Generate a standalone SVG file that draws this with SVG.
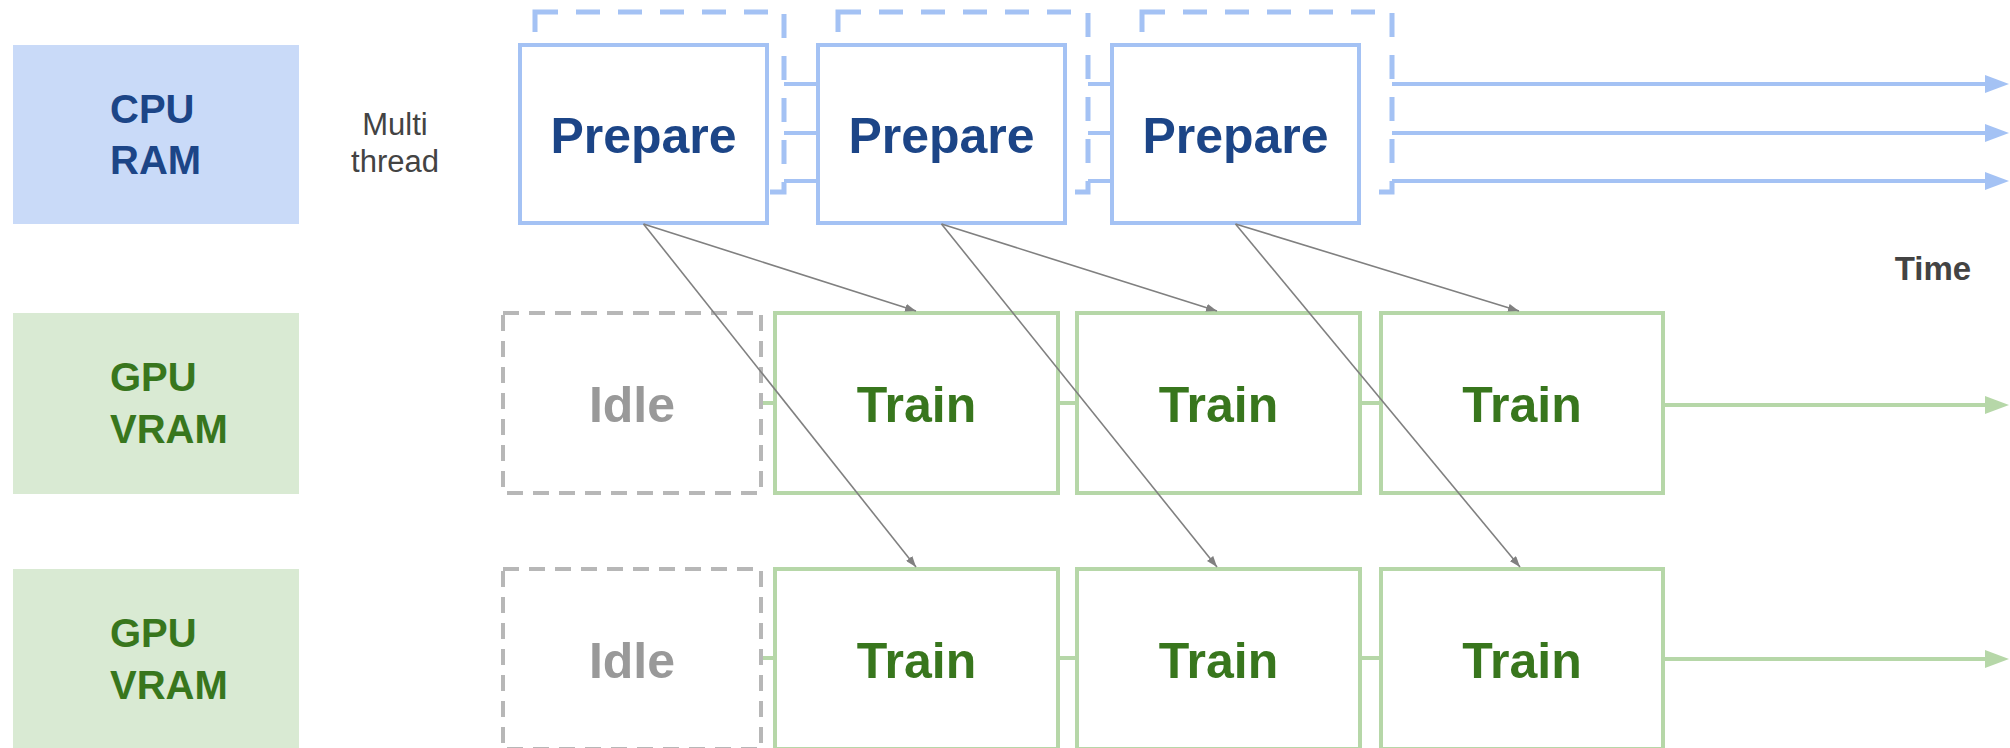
<svg xmlns="http://www.w3.org/2000/svg" width="2010" height="748" viewBox="0 0 2010 748">
  <style>
    text { font-family: "Liberation Sans", Arial, sans-serif; }
    .lbl { font-size: 40px; font-weight: bold; }
    .cpu { fill: #1c4587; }
    .gpu { fill: #38761d; }
    .big { font-size: 50px; font-weight: bold; text-anchor: middle; }
    .prep { fill: #ffffff; stroke: #a4c2f4; stroke-width: 4; }
    .train { fill: #ffffff; stroke: #b6d7a8; stroke-width: 4; }
    .idle { fill: #ffffff; stroke: #b7b7b7; stroke-width: 4; stroke-dasharray: 16 10; }
    .frame { fill: none; stroke: #a4c2f4; stroke-width: 5; stroke-dasharray: 24 18; }
    .corner { fill: none; stroke: #a4c2f4; stroke-width: 5; }
    .bl { fill: none; stroke: #a4c2f4; stroke-width: 4; }
    .gl { fill: none; stroke: #b6d7a8; stroke-width: 4; }
    .gray { fill: none; stroke: #808080; stroke-width: 1.6; }
    .note { font-size: 31px; fill: #434343; text-anchor: middle; }
  </style>
  <defs>
    <marker id="ab" markerUnits="userSpaceOnUse" markerWidth="24" markerHeight="18" refX="2" refY="9" orient="auto">
      <path d="M0,0 L24,9 L0,18 z" fill="#a4c2f4"/>
    </marker>
    <marker id="ag" markerUnits="userSpaceOnUse" markerWidth="24" markerHeight="18" refX="2" refY="9" orient="auto">
      <path d="M0,0 L24,9 L0,18 z" fill="#b6d7a8"/>
    </marker>
    <marker id="ay" markerUnits="userSpaceOnUse" markerWidth="11" markerHeight="8" refX="11" refY="4" orient="auto">
      <path d="M0,0 L11,4 L0,8 z" fill="#808080"/>
    </marker>
  </defs>

  <!-- lane labels -->
  <g id="cpu-ram">
    <rect x="13" y="45" width="286" height="179" fill="#c9daf8"/>
    <text class="lbl cpu" x="110" y="122.5">CPU</text>
    <text class="lbl cpu" x="110" y="174">RAM</text>
  </g>
  <g id="gpu-vram-1">
    <rect x="13" y="313" width="286" height="181" fill="#d9ead3"/>
    <text class="lbl gpu" x="110" y="391">GPU</text>
    <text class="lbl gpu" x="110" y="442.5">VRAM</text>
  </g>
  <g id="gpu-vram-2">
    <rect x="13" y="569" width="286" height="181" fill="#d9ead3"/>
    <text class="lbl gpu" x="110" y="647">GPU</text>
    <text class="lbl gpu" x="110" y="698.5">VRAM</text>
  </g>
  <g id="multi-thread">
    <text class="note" x="395" y="135">Multi</text>
    <text class="note" x="395" y="172">thread</text>
  </g>
  <g id="time">
    <text x="1933" y="280" font-size="33" font-weight="bold" fill="#434343" text-anchor="middle">Time</text>
  </g>

  <!-- connectors (thread lines, pipeline links) -->
  <g id="connectors">
    <!-- thread frames -->
    <path class="corner" d="M535,32 V12 H558"/>
    <path class="frame" d="M576,12 H784 V192 H769"/>
    <path class="corner" d="M838,32 V12 H861"/>
    <path class="frame" d="M879,12 H1088 V192 H1067"/>
    <path class="corner" d="M1142,32 V12 H1165"/>
    <path class="frame" d="M1183,12 H1392 V192 H1361"/>
    <!-- thread lines between prepare blocks -->
    <path class="bl" d="M784,84 H818 M784,133 H818 M784,181 H818"/>
    <path class="bl" d="M1088,84 H1112 M1088,133 H1112 M1088,181 H1112"/>
    <path class="bl" d="M1392,84 H1987" marker-end="url(#ab)"/>
    <path class="bl" d="M1392,133 H1987" marker-end="url(#ab)"/>
    <path class="bl" d="M1392,181 H1987" marker-end="url(#ab)"/>
    <!-- GPU lane links -->
    <path class="gl" d="M761,403 H775 M1058,403 H1077 M1360,403 H1381"/>
    <path class="gl" d="M1663,405 H1987" marker-end="url(#ag)"/>
    <path class="gl" d="M761,658 H775 M1058,658 H1077 M1360,658 H1381"/>
    <path class="gl" d="M1663,659 H1987" marker-end="url(#ag)"/>
  </g>

  <!-- prepare nodes -->
  <g id="prepare-1">
    <rect class="prep" x="520" y="45" width="247" height="178"/>
    <text class="big cpu" x="643.5" y="153">Prepare</text>
  </g>
  <g id="prepare-2">
    <rect class="prep" x="818" y="45" width="247" height="178"/>
    <text class="big cpu" x="941.5" y="153">Prepare</text>
  </g>
  <g id="prepare-3">
    <rect class="prep" x="1112" y="45" width="247" height="178"/>
    <text class="big cpu" x="1235.5" y="153">Prepare</text>
  </g>

  <!-- GPU row 1 -->
  <g id="idle-1">
    <rect class="idle" x="503" y="313" width="258" height="180"/>
    <text class="big" fill="#999999" x="632" y="422">Idle</text>
  </g>
  <g id="train-1-1">
    <rect class="train" x="775" y="313" width="283" height="180"/>
    <text class="big gpu" x="916.5" y="422">Train</text>
  </g>
  <g id="train-1-2">
    <rect class="train" x="1077" y="313" width="283" height="180"/>
    <text class="big gpu" x="1218.5" y="422">Train</text>
  </g>
  <g id="train-1-3">
    <rect class="train" x="1381" y="313" width="282" height="180"/>
    <text class="big gpu" x="1522" y="422">Train</text>
  </g>

  <!-- GPU row 2 -->
  <g id="idle-2">
    <rect class="idle" x="503" y="569" width="258" height="180"/>
    <text class="big" fill="#999999" x="632" y="678">Idle</text>
  </g>
  <g id="train-2-1">
    <rect class="train" x="775" y="569" width="283" height="180"/>
    <text class="big gpu" x="916.5" y="678">Train</text>
  </g>
  <g id="train-2-2">
    <rect class="train" x="1077" y="569" width="283" height="180"/>
    <text class="big gpu" x="1218.5" y="678">Train</text>
  </g>
  <g id="train-2-3">
    <rect class="train" x="1381" y="569" width="282" height="180"/>
    <text class="big gpu" x="1522" y="678">Train</text>
  </g>

  <!-- data transfer arrows -->
  <g id="transfer-connectors">
    <line class="gray" x1="643.5" y1="224" x2="916" y2="311" marker-end="url(#ay)"/>
    <line class="gray" x1="643.5" y1="224" x2="916" y2="567" marker-end="url(#ay)"/>
    <line class="gray" x1="941.5" y1="224" x2="1217" y2="311" marker-end="url(#ay)"/>
    <line class="gray" x1="941.5" y1="224" x2="1217" y2="567" marker-end="url(#ay)"/>
    <line class="gray" x1="1235.5" y1="224" x2="1519" y2="311" marker-end="url(#ay)"/>
    <line class="gray" x1="1235.5" y1="224" x2="1520" y2="567" marker-end="url(#ay)"/>
  </g>
</svg>
